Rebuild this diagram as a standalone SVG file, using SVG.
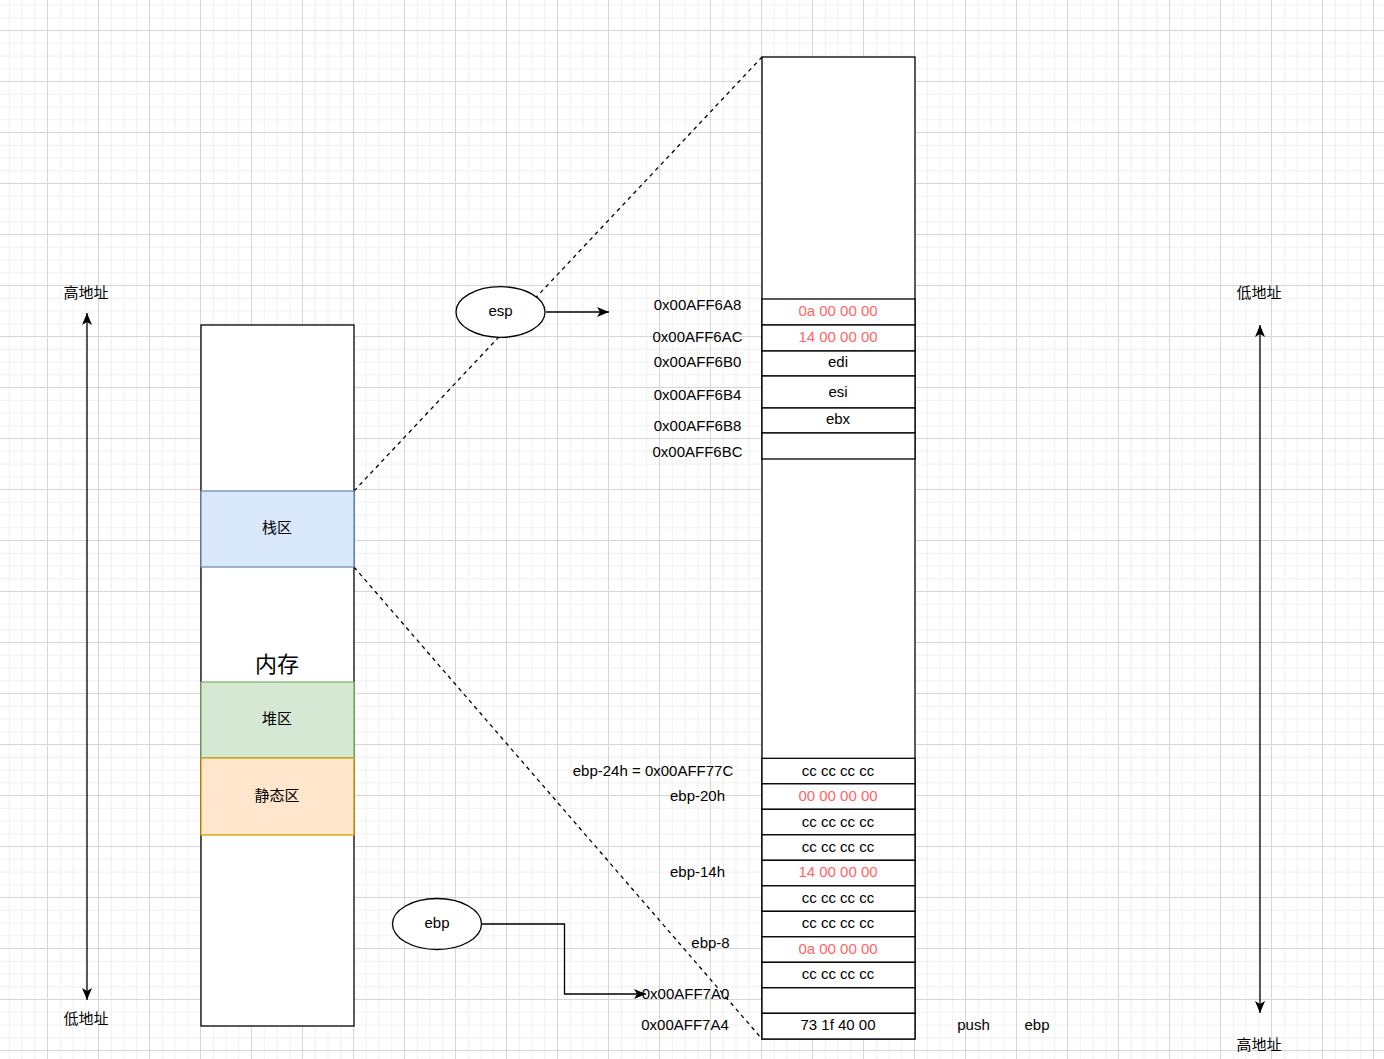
<svg xmlns="http://www.w3.org/2000/svg" width="1384" height="1059" viewBox="0 0 1384 1059">
<style>
.t{font-family:"Liberation Sans",Arial,sans-serif;font-size:15px;fill:#000;text-anchor:middle}
.r{fill:#FF6666}
.cj{font-family:"Noto Sans CJK SC","Liberation Sans",sans-serif;font-size:15px;fill:#000;text-anchor:middle}
.box{fill:#fff;stroke:#000;stroke-width:1.3}
.ln{fill:none;stroke:#000;stroke-width:1.3}
.dash{fill:none;stroke:#000;stroke-width:1.3;stroke-dasharray:4 4}
</style>
<defs>
<pattern id="grid" x="-4" y="-21" width="51" height="51" patternUnits="userSpaceOnUse">
<path d="M13.25 0V51M26 0V51M38.75 0V51M0 13.25H51M0 26H51M0 38.75H51" stroke="#f0f0f0" stroke-width="1"/>
<path d="M0.5 0V51M0 0.5H51" stroke="#d6d6d6" stroke-width="1"/>
</pattern>
<marker id="ar" viewBox="0 0 12 10" refX="12" refY="5" markerWidth="12" markerHeight="10" markerUnits="userSpaceOnUse" orient="auto-start-reverse">
<path d="M0,0 L12,5 L0,10 L3,5 Z" fill="#000"/>
</marker>
</defs>
<rect width="1384" height="1059" fill="#fff"/>
<rect width="1384" height="1059" fill="url(#grid)"/>

<g id="connectors">
<path class="dash" d="M354 491L762 57"/>
<path class="dash" d="M354 567L762 1039"/>
<path class="ln" d="M546 312H609" marker-end="url(#ar)"/>
<path class="ln" d="M481 924H564.5V994H646" marker-end="url(#ar)"/>
<path class="ln" d="M87 313V1000" marker-start="url(#ar)" marker-end="url(#ar)"/>
<path class="ln" d="M1260 325V1013" marker-start="url(#ar)" marker-end="url(#ar)"/>
</g>

<g id="memory">
<rect class="box" x="201" y="325" width="153" height="701"/>
<text x="277" y="672" style="font-family:'Noto Sans CJK SC','Liberation Sans',sans-serif;font-size:22px;text-anchor:middle">内存</text>
</g>
<g id="stack-area">
<rect x="201" y="491" width="153" height="76" fill="#dae8fc" stroke="#6c8ebf" stroke-width="1.3"/>
<text class="cj" x="277" y="533">栈区</text>
</g>
<g id="heap-area">
<rect x="201" y="682" width="153" height="76" fill="#d5e8d4" stroke="#82b366" stroke-width="1.3"/>
<text class="cj" x="277" y="724">堆区</text>
</g>
<g id="static-area">
<rect x="201" y="758" width="153" height="77" fill="#ffe6cc" stroke="#d79b00" stroke-width="1.3"/>
<text class="cj" x="277" y="801">静态区</text>
</g>

<g id="label-high-left"><text class="cj" x="86" y="298">高地址</text></g>
<g id="label-low-left"><text class="cj" x="86" y="1024">低地址</text></g>
<g id="label-low-right"><text class="cj" x="1259" y="298">低地址</text></g>
<g id="label-high-right"><text class="cj" x="1259" y="1050">高地址</text></g>

<g id="esp">
<ellipse class="box" cx="500.5" cy="312" rx="44.5" ry="25.3"/>
<text class="t" x="500.5" y="316">esp</text>
</g>
<g id="ebp">
<ellipse class="box" cx="437" cy="924" rx="44.5" ry="25.5"/>
<text class="t" x="437" y="927.5">ebp</text>
</g>

<g id="stack">
<rect class="box" x="762" y="57" width="153" height="982"/>
</g>
<g id="cells-top">
<rect class="box" x="762" y="299" width="153" height="26"/>
<text class="t r" x="838" y="316">0a 00 00 00</text>
<rect class="box" x="762" y="325" width="153" height="26"/>
<text class="t r" x="838" y="342">14 00 00 00</text>
<rect class="box" x="762" y="351" width="153" height="25"/>
<text class="t" x="838" y="367">edi</text>
<rect class="box" x="762" y="376" width="153" height="32"/>
<text class="t" x="838" y="397">esi</text>
<rect class="box" x="762" y="408" width="153" height="25"/>
<text class="t" x="838" y="424">ebx</text>
<rect class="box" x="762" y="433" width="153" height="26"/>
</g>
<g id="cells-bottom">
<rect class="box" x="762" y="758.3" width="153" height="25.5"/>
<text class="t" x="838" y="776">cc cc cc cc</text>
<rect class="box" x="762" y="783.8" width="153" height="25.5"/>
<text class="t r" x="838" y="801">00 00 00 00</text>
<rect class="box" x="762" y="809.3" width="153" height="25.5"/>
<text class="t" x="838" y="827">cc cc cc cc</text>
<rect class="box" x="762" y="834.8" width="153" height="25.5"/>
<text class="t" x="838" y="852">cc cc cc cc</text>
<rect class="box" x="762" y="860.3" width="153" height="25.5"/>
<text class="t r" x="838" y="877">14 00 00 00</text>
<rect class="box" x="762" y="885.8" width="153" height="25.5"/>
<text class="t" x="838" y="903">cc cc cc cc</text>
<rect class="box" x="762" y="911.3" width="153" height="25.5"/>
<text class="t" x="838" y="928">cc cc cc cc</text>
<rect class="box" x="762" y="936.8" width="153" height="25.5"/>
<text class="t r" x="838" y="954">0a 00 00 00</text>
<rect class="box" x="762" y="962.3" width="153" height="25.5"/>
<text class="t" x="838" y="979">cc cc cc cc</text>
<rect class="box" x="762" y="987.8" width="153" height="25.5"/>
<rect class="box" x="762" y="1013.3" width="153" height="25.7"/>
<text class="t" x="838" y="1029.5">73 1f 40 00</text>
</g>

<g id="addresses">
<text class="t" x="697.5" y="310">0x00AFF6A8</text>
<text class="t" x="697.5" y="342">0x00AFF6AC</text>
<text class="t" x="697.5" y="367">0x00AFF6B0</text>
<text class="t" x="697.5" y="400">0x00AFF6B4</text>
<text class="t" x="697.5" y="431">0x00AFF6B8</text>
<text class="t" x="697.5" y="457">0x00AFF6BC</text>
<text class="t" x="653" y="775.5">ebp-24h = 0x00AFF77C</text>
<text class="t" x="697.5" y="801">ebp-20h</text>
<text class="t" x="697.5" y="877">ebp-14h</text>
<text class="t" x="710.5" y="947.5">ebp-8</text>
<text class="t" x="685.5" y="999">0x00AFF7A0</text>
<text class="t" x="685" y="1029.5">0x00AFF7A4</text>
</g>
<g id="push-label">
<text class="t" x="973.5" y="1029.5">push</text>
<text class="t" x="1037" y="1029.5">ebp</text>
</g>
</svg>
